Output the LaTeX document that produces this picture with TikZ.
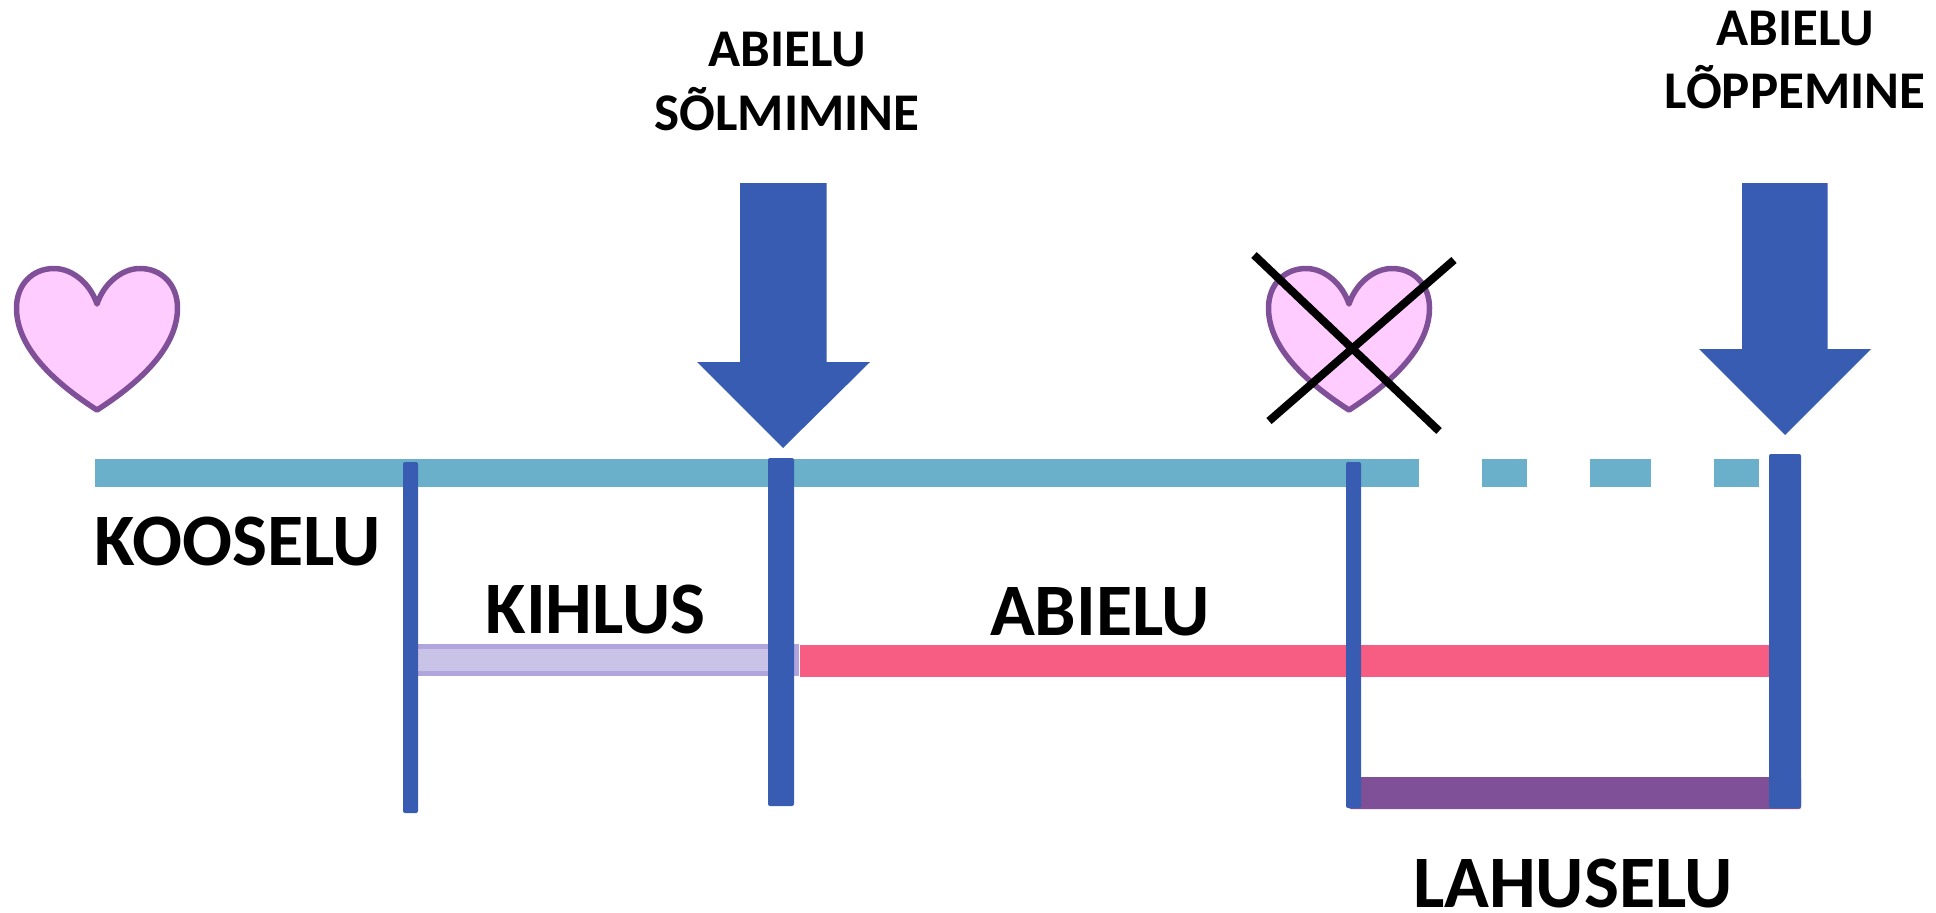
\documentclass[tikz,border=0pt]{standalone}
\usepackage{fontspec}
\setmainfont{Carlito}
\definecolor{tealbar}{HTML}{6BB0CA}
\definecolor{bluebar}{HTML}{375CB1}
\definecolor{pinkbar}{HTML}{F75D82}
\definecolor{kihfill}{HTML}{C9C3E8}
\definecolor{kihline}{HTML}{B0A5DD}
\definecolor{plum}{HTML}{7F5097}
\definecolor{heartfill}{HTML}{FFCCFF}
\tikzset{
  x=1pt,y=-1pt,
  bigtext/.style={inner sep=0pt,anchor=base,font=\bfseries\fontsize{74}{74}\selectfont},
  toptext/.style={inner sep=0pt,anchor=base,font=\bfseries\fontsize{53}{64}\selectfont},
  tealseg/.style={fill=tealbar,draw=none},
  post/.style={fill=bluebar,draw=none,rounded corners=2pt},
  bigarrow/.style={fill=bluebar,draw=none},
  heartstyle/.style={fill=heartfill,draw=plum,line width=5.5pt,line join=round},
  crossline/.style={draw=black,line width=8pt}
}
\newcommand{\heartat}[1]{%
  \path[heartstyle,shift={(#1,0)}] (97,304)
    .. controls (104,283) and (122,268.5) .. (140,268.5)
    .. controls (162,268.5) and (177.5,285) .. (177.5,308)
    .. controls (177.5,340) and (153,374) .. (97,410)
    .. controls (41,374) and (16.5,340) .. (16.5,308)
    .. controls (16.5,285) and (32,268.5) .. (54,268.5)
    .. controls (72,268.5) and (90,283) .. (97,304) -- cycle;}
\begin{document}
\begin{tikzpicture}
\useasboundingbox (0,0) rectangle (1936,913);
% teal timeline
\path[tealseg] (95,459) rectangle (1418.5,487);
\path[tealseg] (1482,459) rectangle (1527,487);
\path[tealseg] (1590,459) rectangle (1651,487);
\path[tealseg] (1714,459) rectangle (1759,487);
% kihlus, abielu, lahuselu bars
\path[fill=kihfill,draw=kihline,line width=5pt] (412,646.5) rectangle (796,673.5);
\path[fill=pinkbar] (800,645) rectangle (1770,677);
\path[fill=plum,rounded corners=2pt] (1349,777) rectangle (1801,809);
% vertical posts
\path[post] (403,462) rectangle (418,813);
\path[post] (768,458) rectangle (794,806);
\path[post] (1346,462) rectangle (1361,808);
\path[post] (1769,454) rectangle (1801,808);
% arrows
\path[bigarrow] (740,183) -- (826.5,183) -- (826.5,362) -- (870,362) -- (783,448) -- (697,362) -- (740,362) -- cycle;
\path[bigarrow] (1742,183) -- (1827.5,183) -- (1827.5,349) -- (1871,349) -- (1785,435) -- (1699,349) -- (1742,349) -- cycle;
% hearts
\heartat{0}
\heartat{1252}
\coordinate (xa) at (1254,255);
\coordinate (xb) at (1439,431);
\coordinate (xc) at (1269,421);
\coordinate (xd) at (1454,260);
\draw[crossline] (xa) -- (xb);
\draw[crossline] (xc) -- (xd);
% labels
\node[bigtext] (kooselu) at (238,565) {KOOSELU};
\node[bigtext] (kihlus) at (595.5,633) {KIHLUS};
\node[bigtext] (abielu) at (1100,635) {ABIELU};
\node[bigtext] (lahuselu) at (1573,907) {LAHUSELU};
\node[toptext] (t1a) at (787,66) {ABIELU};
\node[toptext] (t1b) at (787,130) {SÕLMIMINE};
\node[toptext] (t2a) at (1795,45) {ABIELU};
\node[toptext] (t2b) at (1795,108) {LÕPPEMINE};
\end{tikzpicture}
\end{document}
